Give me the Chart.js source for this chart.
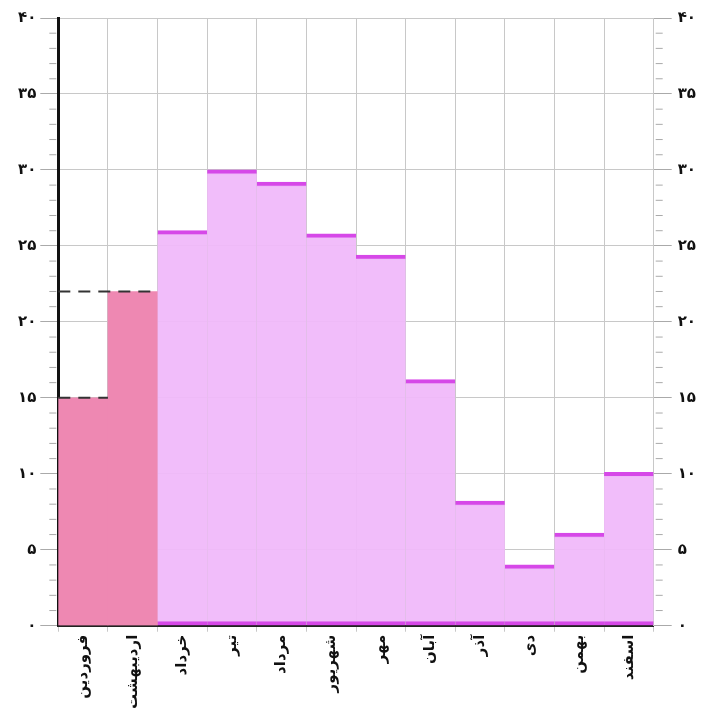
<!DOCTYPE html>
<html>
<head>
<meta charset="utf-8">
<script src="https://cdn.jsdelivr.net/npm/chart.js@4"></script>
<style>
  body { margin: 0; background: #fff; }
  #wrap { width: 704px; height: 712px; }
</style>
</head>
<body>
<div id="wrap"><canvas id="graph"></canvas></div>
<script>
const months = ['فروردین', 'اردیبهشت', 'خرداد', 'تیر', 'مرداد', 'شهریور', 'مهر', 'آبان', 'آذر', 'دی', 'بهمن', 'اسفند'];
const values = [15, 22, 26, 30, 29.2, 25.8, 24.4, 16.2, 8.2, 4, 6.1, 10.1];
const yTicks = [0, 5, 10, 15, 20, 25, 30, 35, 40];

const PINK = 'rgb(238, 136, 178)';
const VIOLET = 'rgba(240, 185, 250, 0.95)';
const MAGENTA = 'rgb(214, 72, 232)';

const faDigits = '۰۱۲۳۴۵۶۷۸۹';
const toFa = n => String(n).replace(/\d/g, d => faDigits[d]);

const isPink = i => i < 2;

// dashed marker lines from the axis to the top of the first two bars + minor ticks
const extras = {
  id: 'extras',
  afterDatasetsDraw(chart) {
    const ctx = chart.ctx;
    const meta = chart.getDatasetMeta(0);
    const yScale = chart.scales.y;
    const left = chart.chartArea.left;
    ctx.save();
    ctx.strokeStyle = '#333';
    ctx.lineWidth = 2;
    ctx.setLineDash([12, 8]);
    meta.data.forEach((bar, i) => {
      if (!isPink(i)) return;
      const right = bar.x + bar.width / 2;
      ctx.beginPath();
      ctx.moveTo(left, bar.y);
      ctx.lineTo(right, bar.y);
      ctx.stroke();
    });
    ctx.setLineDash([]);
    // minor ticks
    ctx.strokeStyle = '#aaa';
    ctx.lineWidth = 1;
    const yr = chart.scales.y2;
    for (let v = 0; v <= 40; v++) {
      if (v % 5 === 0) continue;
      const py = yScale.getPixelForValue(v);
      ctx.beginPath();
      ctx.moveTo(left - 9, py);
      ctx.lineTo(left - 2, py);
      ctx.moveTo(yr.left + 2, py);
      ctx.lineTo(yr.left + 9, py);
      ctx.stroke();
    }
    ctx.restore();
  }
};

const cfg = {
  type: 'bar',
  data: {
    labels: months,
    datasets: [{
      data: values,
      backgroundColor: values.map((v, i) => isPink(i) ? PINK : VIOLET),
      borderColor: values.map((v, i) => isPink(i) ? PINK : MAGENTA),
      borderWidth: values.map((v, i) => isPink(i) ? 0 : { top: 4, bottom: 4, left: 0, right: 0 }),
      borderSkipped: false,
      barPercentage: 1,
      categoryPercentage: 1,
      yAxisID: 'y'
    }]
  },
  options: {
    responsive: true,
    maintainAspectRatio: false,
    animation: false,
    layout: { padding: { top: 18, left: 14, right: 2, bottom: 0 } },
    plugins: { legend: { display: false }, tooltip: { enabled: false } },
    scales: {
      x: {
        grid: { color: '#c8c8c8', offset: true, drawTicks: true, tickLength: 6 },
        border: { color: '#222', width: 2 },
        ticks: {
          color: '#111',
          maxRotation: 90,
          minRotation: 90,
          autoSkip: false,
          font: { family: 'DejaVu Sans', size: 15, weight: 'bold' }
        }
      },
      y: {
        position: 'left',
        min: 0,
        max: 40,
        afterBuildTicks: s => { s.ticks = yTicks.map(v => ({ value: v })); },
        grid: { color: '#c8c8c8', tickLength: 18, tickColor: '#aaa' },
        border: { color: '#111', width: 3 },
        ticks: {
          color: '#111',
          padding: 4,
          font: { family: 'DejaVu Sans', size: 15, weight: 'bold' },
          callback: v => toFa(v)
        }
      },
      y2: {
        position: 'right',
        min: 0,
        max: 40,
        afterBuildTicks: s => { s.ticks = yTicks.map(v => ({ value: v })); },
        grid: { drawOnChartArea: false, tickLength: 18, tickColor: '#aaa' },
        border: { color: '#c8c8c8', width: 1 },
        ticks: {
          color: '#111',
          padding: 6,
          font: { family: 'DejaVu Sans', size: 15, weight: 'bold' },
          callback: v => toFa(v)
        }
      }
    }
  },
  plugins: [extras]
};

new Chart(document.getElementById('graph').getContext('2d'), cfg);
</script>
</body>
</html>
